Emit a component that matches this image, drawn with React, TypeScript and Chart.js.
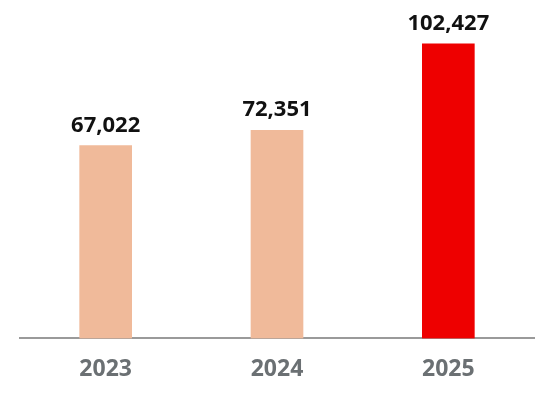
import React, { useEffect, useRef } from 'react'
import { Chart, registerables } from 'chart.js'
import type { Plugin } from 'chart.js'

Chart.register(...registerables)

const years = ['2023', '2024', '2025']
const totals = [67022, 72351, 102427]
const barColors = ['#F0BA9A', '#F0BA9A', '#EE0000']

const FONT = '"Noto Sans", "Open Sans", sans-serif'

// value labels above each bar
const valueLabels: Plugin<'bar'> = {
  id: 'valueLabels',
  afterDatasetsDraw(chart) {
    const { ctx } = chart
    const meta = chart.getDatasetMeta(0)
    ctx.save()
    ctx.font = `bold 22px ${FONT}`
    ctx.fillStyle = '#111111'
    ctx.textAlign = 'center'
    ctx.textBaseline = 'alphabetic'
    meta.data.forEach((bar, i) => {
      ctx.fillText(totals[i].toLocaleString('en-US'), bar.x, bar.y - 14)
    })
    ctx.restore()
  },
}

export default function App() {
  const canvasRef = useRef<HTMLCanvasElement>(null)
  const chartRef = useRef<Chart | null>(null)

  useEffect(() => {
    if (!canvasRef.current) return
    chartRef.current?.destroy()

    chartRef.current = new Chart(canvasRef.current, {
      type: 'bar',
      data: {
        labels: years,
        datasets: [
          {
            data: totals,
            backgroundColor: barColors,
            barThickness: 52,
            borderWidth: 0,
          },
        ],
      },
      options: {
        animation: false,
        responsive: true,
        maintainAspectRatio: false,
        layout: { padding: { left: 20, right: 20, top: 22, bottom: 0 } },
        plugins: {
          legend: { display: false },
          tooltip: { enabled: false },
        },
        scales: {
          x: {
            grid: { display: false, drawTicks: false },
            border: { display: true, color: '#9a9a9a', width: 2 },
            ticks: {
              padding: 17,
              color: '#6b7073',
              font: { family: FONT, size: 23, weight: 'bold' },
            },
          },
          y: { display: false, min: 0, max: 110000 },
        },
      },
      plugins: [valueLabels],
    })

    return () => {
      chartRef.current?.destroy()
      chartRef.current = null
    }
  }, [])

  return (
    <div style={{ position: 'fixed', left: 0, top: 0, width: 554, height: 400, background: '#fff' }}>
      <canvas ref={canvasRef} />
    </div>
  )
}
